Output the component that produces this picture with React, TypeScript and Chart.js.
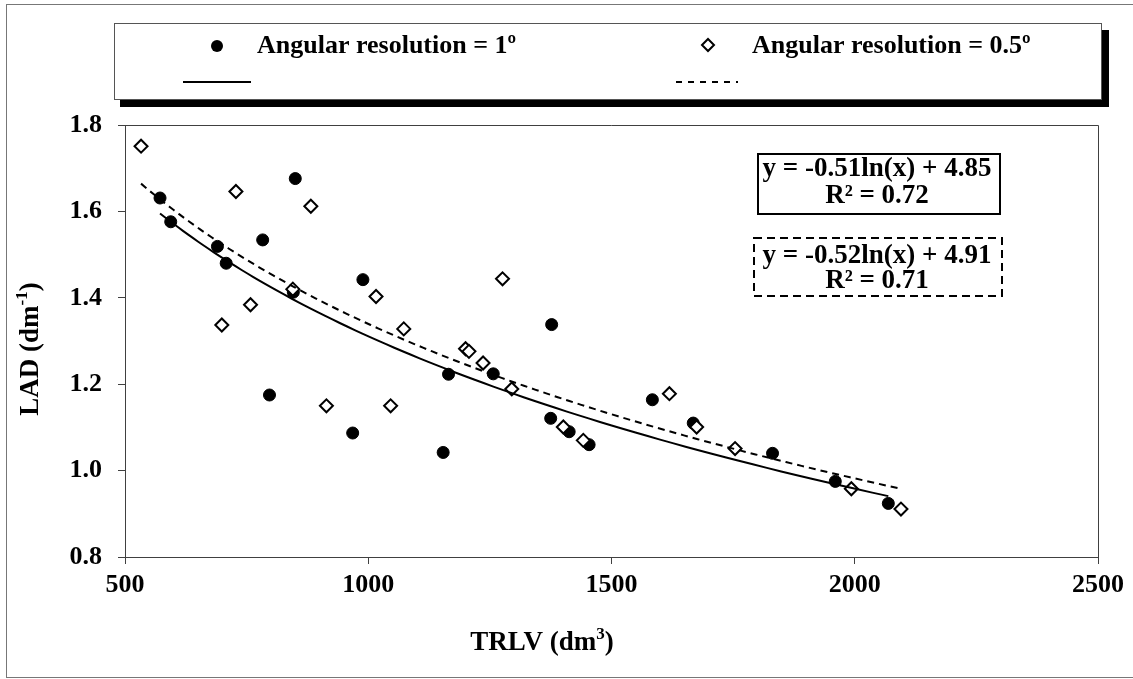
import React, { useEffect, useRef } from "react";
import { Chart, registerables } from "chart.js";

Chart.register(...registerables);

const FONT = "'Liberation Serif', 'Times New Roman', serif";

const SERIES_1_LABEL = "Angular resolution = 1º";
const SERIES_2_LABEL = "Angular resolution = 0.5º";

// Angular resolution = 1º (filled circles)
const trlv1 = [572, 594, 690, 708, 783, 797, 846, 850, 968, 989, 1154, 1165, 1257, 1375, 1377, 1413, 1454, 1584, 1668, 1831, 1960, 2069];
const lad1 = [1.631, 1.576, 1.519, 1.48, 1.534, 1.175, 1.413, 1.676, 1.087, 1.442, 1.042, 1.223, 1.224, 1.121, 1.338, 1.09, 1.06, 1.164, 1.11, 1.04, 0.975, 0.924];

// Angular resolution = 0.5º (open diamonds)
const trlv2 = [533, 699, 728, 758, 845, 882, 914, 1016, 1046, 1073, 1200, 1207, 1236, 1276, 1295, 1401, 1442, 1619, 1675, 1754, 1993, 2095];
const lad2 = [1.751, 1.337, 1.646, 1.384, 1.42, 1.612, 1.15, 1.403, 1.15, 1.328, 1.282, 1.276, 1.249, 1.444, 1.189, 1.101, 1.07, 1.178, 1.101, 1.051, 0.958, 0.911];

// logarithmic trendlines y = a ln(x) + b, as drawn in the picture
const trend1 = { a: -0.509, b: 4.827 };
const trend2 = { a: -0.516, b: 4.904 };

const xTicks = [500, 1000, 1500, 2000, 2500];
const yTicks = [0.8, 1.0, 1.2, 1.4, 1.6, 1.8];

const eqLines1 = ["y = -0.51ln(x) + 4.85", "R² = 0.72"];
const eqLines2 = ["y = -0.52ln(x) + 4.91", "R² = 0.71"];

const X_TITLE = ["TRLV (dm", "3", ")"];
const Y_TITLE = ["LAD (dm", "-1", ")"];

function trendPoints(xs: number[], coef: { a: number; b: number }) {
  const lo = Math.min(...xs);
  const hi = Math.max(...xs);
  const pts: { x: number; y: number }[] = [];
  const steps = 80;
  for (let i = 0; i <= steps; i++) {
    const x = lo * Math.pow(hi / lo, i / steps);
    pts.push({ x, y: coef.a * Math.log(x) + coef.b });
  }
  return pts;
}

function drawSupText(ctx: CanvasRenderingContext2D, parts: string[], cx: number, cy: number, size: number) {
  const main = `bold ${size}px ${FONT}`;
  const sup = `bold ${Math.round(size * 0.62)}px ${FONT}`;
  ctx.font = main;
  const w0 = ctx.measureText(parts[0]).width;
  const w2 = ctx.measureText(parts[2]).width;
  ctx.font = sup;
  const w1 = ctx.measureText(parts[1]).width;
  const total = w0 + w1 + w2;
  let x = cx - total / 2;
  ctx.textAlign = "left";
  ctx.textBaseline = "middle";
  ctx.fillStyle = "#000";
  ctx.font = main;
  ctx.fillText(parts[0], x, cy);
  x += w0;
  ctx.font = sup;
  ctx.fillText(parts[1], x, cy - size * 0.3);
  x += w1;
  ctx.font = main;
  ctx.fillText(parts[2], x, cy);
}

const decor = {
  id: "decor",
  beforeDraw(chart: any) {
    const ctx = chart.ctx;
    ctx.save();
    ctx.fillStyle = "#fff";
    ctx.fillRect(0, 0, chart.width, chart.height);
    ctx.restore();
  },
  beforeDatasetsDraw(chart: any) {
    const ctx = chart.ctx;
    const ca = chart.chartArea;
    ctx.save();
    ctx.strokeStyle = "#404040";
    ctx.lineWidth = 1;
    ctx.beginPath();
    ctx.moveTo(ca.left, ca.top + 0.5);
    ctx.lineTo(ca.right + 0.5, ca.top + 0.5);
    ctx.lineTo(ca.right + 0.5, ca.bottom);
    ctx.stroke();
    ctx.restore();
  },
  afterDraw(chart: any) {
    const ctx: CanvasRenderingContext2D = chart.ctx;
    ctx.save();

    // outer chart border
    ctx.strokeStyle = "#777";
    ctx.lineWidth = 1;
    ctx.strokeRect(6.5, 4.5, 1150, 673);

    // legend box with shadow
    ctx.fillStyle = "#000";
    ctx.fillRect(120, 30, 989, 77);
    ctx.fillStyle = "#fff";
    ctx.fillRect(114, 23, 988, 77);
    ctx.strokeStyle = "#555";
    ctx.strokeRect(114.5, 23.5, 987, 76);

    const labels = [chart.data.datasets[0].label, chart.data.datasets[1].label];
    ctx.font = `bold 26px ${FONT}`;
    ctx.textAlign = "left";
    ctx.textBaseline = "middle";
    ctx.fillStyle = "#000";
    // item 1: filled circle
    ctx.beginPath();
    ctx.arc(217, 46, 6, 0, Math.PI * 2);
    ctx.fill();
    ctx.fillText(labels[0], 257, 46);
    // item 2: open diamond
    ctx.lineWidth = 2;
    ctx.strokeStyle = "#000";
    ctx.fillStyle = "#fff";
    ctx.beginPath();
    ctx.moveTo(708 - 6, 45);
    ctx.lineTo(708, 45 - 6);
    ctx.lineTo(708 + 6, 45);
    ctx.lineTo(708, 45 + 6);
    ctx.closePath();
    ctx.fill();
    ctx.stroke();
    ctx.fillStyle = "#000";
    ctx.fillText(labels[1], 752, 46);
    // trend line samples
    ctx.lineWidth = 2;
    ctx.beginPath();
    ctx.moveTo(183, 82);
    ctx.lineTo(251, 82);
    ctx.stroke();
    ctx.setLineDash([6, 6]);
    ctx.beginPath();
    ctx.moveTo(676, 82);
    ctx.lineTo(738, 82);
    ctx.stroke();
    ctx.setLineDash([]);

    // equation boxes
    ctx.fillStyle = "#fff";
    ctx.fillRect(757, 153, 244, 62);
    ctx.strokeStyle = "#000";
    ctx.lineWidth = 2;
    ctx.strokeRect(758, 154, 242, 60);
    ctx.fillRect(753, 237, 250, 60);
    ctx.setLineDash([8, 5]);
    ctx.strokeRect(754, 238, 248, 58);
    ctx.setLineDash([]);

    ctx.fillStyle = "#000";
    ctx.font = `bold 27px ${FONT}`;
    ctx.textAlign = "center";
    ctx.textBaseline = "middle";
    ctx.fillText(eqLines1[0], 877, 169);
    ctx.fillText(eqLines1[1], 877, 196);
    ctx.fillText(eqLines2[0], 877, 256);
    ctx.fillText(eqLines2[1], 877, 281);

    // axis titles
    drawSupText(ctx, X_TITLE, 542, 643, 27);
    ctx.save();
    ctx.translate(31, 349);
    ctx.rotate(-Math.PI / 2);
    drawSupText(ctx, Y_TITLE, 0, 0, 27);
    ctx.restore();

    ctx.restore();
  },
};

export default function App() {
  const ref = useRef<HTMLCanvasElement | null>(null);

  useEffect(() => {
    if (!ref.current) return;
    const tickFont = { family: FONT, size: 26, weight: "bold" as const };
    const chart = new Chart(ref.current, {
      type: "scatter",
      data: {
        datasets: [
          {
            label: SERIES_1_LABEL,
            data: trlv1.map((x, i) => ({ x, y: lad1[i] })),
            pointStyle: "circle",
            pointRadius: 6,
            backgroundColor: "#000",
            borderColor: "#000",
            borderWidth: 1,
            order: 3,
          },
          {
            label: SERIES_2_LABEL,
            data: trlv2.map((x, i) => ({ x, y: lad2[i] })),
            pointStyle: "rectRot",
            pointRadius: 6.5,
            backgroundColor: "#fff",
            borderColor: "#000",
            borderWidth: 2,
            order: 2,
          },
          {
            label: "trend 1º",
            data: trendPoints(trlv1, trend1),
            showLine: true,
            pointRadius: 0,
            borderColor: "#000",
            borderWidth: 2,
            order: 1,
          },
          {
            label: "trend 0.5º",
            data: trendPoints(trlv2, trend2),
            showLine: true,
            pointRadius: 0,
            borderColor: "#000",
            borderWidth: 2,
            borderDash: [7, 5],
            order: 0,
          },
        ],
      },
      options: {
        animation: false,
        responsive: false,
        devicePixelRatio: 1,
        layout: { padding: { top: 125, right: 35, left: 0, bottom: 0 } },
        plugins: { legend: { display: false }, tooltip: { enabled: false } },
        scales: {
          x: {
            type: "linear",
            min: 500,
            max: 2500,
            afterBuildTicks: (s: any) => {
              s.ticks = xTicks.map((v) => ({ value: v }));
            },
            afterFit: (s: any) => {
              s.height = 122;
            },
            ticks: { font: tickFont, color: "#000", padding: 6, maxRotation: 0, callback: (v: any) => String(v) },
            grid: { drawOnChartArea: false, drawTicks: true, tickLength: 7, color: "#404040" },
            border: { display: true, color: "#404040", width: 1 },
          },
          y: {
            type: "linear",
            min: 0.8,
            max: 1.8,
            afterBuildTicks: (s: any) => {
              s.ticks = yTicks.map((v) => ({ value: v }));
            },
            afterFit: (s: any) => {
              s.width = 125;
            },
            ticks: { font: tickFont, color: "#000", padding: 16, callback: (v: any) => Number(v).toFixed(1) },
            grid: { drawOnChartArea: false, drawTicks: true, tickLength: 7, color: "#404040" },
            border: { display: true, color: "#404040", width: 1 },
          },
        },
      },
      plugins: [decor],
    });
    return () => chart.destroy();
  }, []);

  return (
    <div style={{ position: "absolute", left: 0, top: 0, width: 1133, height: 679, background: "#fff" }}>
      <canvas ref={ref} width={1133} height={679} style={{ width: 1133, height: 679, display: "block" }} />
    </div>
  );
}
